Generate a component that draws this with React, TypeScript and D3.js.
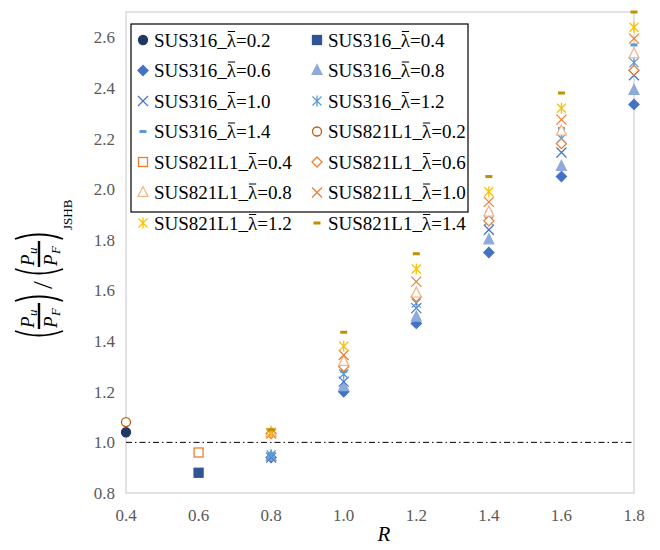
import React, { useRef, useEffect } from "react";
import * as d3 from "d3";

const rVals = [0.8, 1.0, 1.2, 1.4, 1.6, 1.8];

// SUS316 series
const sus316_02 = [{ r: 0.4, v: 1.04 }];
const sus316_04 = [{ r: 0.6, v: 0.88 }];
const sus316_06 = [0.94, 1.2, 1.47, 1.75, 2.05, 2.335];
const sus316_08 = [0.945, 1.22, 1.495, 1.8, 2.09, 2.39];
const sus316_10 = [0.94, 1.24, 1.53, 1.84, 2.145, 2.45];
const sus316_12 = [0.95, 1.27, 1.55, 1.875, 2.2, 2.5];
const sus316_14 = [0.955, 1.28, 1.575, 1.91, 2.24, 2.57];

// SUS821L1 series
const sus821_02 = [{ r: 0.4, v: 1.08 }];
const sus821_04 = [{ r: 0.6, v: 0.96 }];
const sus821_06 = [1.035, 1.3, 1.575, 1.875, 2.18, 2.47];
const sus821_08 = [1.04, 1.32, 1.59, 1.91, 2.23, 2.535];
const sus821_10 = [1.035, 1.345, 1.635, 1.95, 2.275, 2.595];
const sus821_12 = [1.04, 1.38, 1.685, 1.99, 2.32, 2.64];
const sus821_14 = [1.05, 1.435, 1.745, 2.05, 2.38, 2.7];

const xTicks = [0.4, 0.6, 0.8, 1.0, 1.2, 1.4, 1.6, 1.8];
const yTicks = [0.8, 1.0, 1.2, 1.4, 1.6, 1.8, 2.0, 2.2, 2.4, 2.6];

const toPts = (arr: number[]) => arr.map((v, i) => ({ r: rVals[i], v }));

const series = [
  { steel: "SUS316", lam: "0.2", shape: "circle", color: "#203864", fill: true, data: sus316_02 },
  { steel: "SUS316", lam: "0.4", shape: "square", color: "#2F5597", fill: true, data: sus316_04 },
  { steel: "SUS316", lam: "0.6", shape: "diamond", color: "#4472C4", fill: true, data: toPts(sus316_06) },
  { steel: "SUS316", lam: "0.8", shape: "triangle", color: "#8FAADC", fill: true, data: toPts(sus316_08) },
  { steel: "SUS316", lam: "1.0", shape: "x", color: "#4472C4", fill: false, data: toPts(sus316_10) },
  { steel: "SUS316", lam: "1.2", shape: "star", color: "#5B9BD5", fill: false, data: toPts(sus316_12) },
  { steel: "SUS316", lam: "1.4", shape: "dash", color: "#5B9BD5", fill: true, data: toPts(sus316_14) },
  { steel: "SUS821L1", lam: "0.2", shape: "circle", color: "#C55A11", fill: false, data: sus821_02 },
  { steel: "SUS821L1", lam: "0.4", shape: "square", color: "#ED7D31", fill: false, data: sus821_04 },
  { steel: "SUS821L1", lam: "0.6", shape: "diamond", color: "#ED7D31", fill: false, data: toPts(sus821_06) },
  { steel: "SUS821L1", lam: "0.8", shape: "triangle", color: "#F4B183", fill: false, data: toPts(sus821_08) },
  { steel: "SUS821L1", lam: "1.0", shape: "x", color: "#ED7D31", fill: false, data: toPts(sus821_10) },
  { steel: "SUS821L1", lam: "1.2", shape: "star", color: "#FFC000", fill: false, data: toPts(sus821_12) },
  { steel: "SUS821L1", lam: "1.4", shape: "dash", color: "#BF9000", fill: true, data: toPts(sus821_14) },
];

const FONT = "Liberation Serif, Times New Roman, serif";

const drawMarker = (g: any, shape: string, color: string, fill: boolean) => {
  const f = fill ? color : "white";
  if (shape === "circle") {
    g.append("circle").attr("r", 4.5).attr("fill", f).attr("stroke", color).attr("stroke-width", 1.3);
  } else if (shape === "square") {
    g.append("rect").attr("x", -4.5).attr("y", -4.5).attr("width", 9).attr("height", 9)
      .attr("fill", f).attr("stroke", color).attr("stroke-width", 1.3);
  } else if (shape === "diamond") {
    g.append("path").attr("d", "M0,-5L5,0L0,5L-5,0Z").attr("fill", f).attr("stroke", color).attr("stroke-width", 1.3);
  } else if (shape === "triangle") {
    g.append("path").attr("d", "M0,-6L5,4L-5,4Z").attr("fill", f).attr("stroke", color).attr("stroke-width", 1.2);
  } else if (shape === "x") {
    g.append("path").attr("d", "M-5,-5L5,5M-5,5L5,-5").attr("stroke", color).attr("stroke-width", 1.2).attr("fill", "none");
  } else if (shape === "star") {
    g.append("path").attr("d", "M-4.5,-4.5L4.5,4.5M-4.5,4.5L4.5,-4.5M0,-5.5L0,5.5")
      .attr("stroke", color).attr("stroke-width", 1.3).attr("fill", "none");
  } else if (shape === "dash") {
    g.append("rect").attr("x", -3.5).attr("y", -1.5).attr("width", 7).attr("height", 3).attr("fill", color);
  }
};

const Chart = () => {
  const ref = useRef<SVGSVGElement>(null);

  useEffect(() => {
    const svg = d3.select(ref.current);
    svg.selectAll("*").remove();

    const left = 126, right = 634, top = 12, bottom = 493;
    const x = d3.scaleLinear().domain([0.4, 1.8]).range([left, right]);
    const y = d3.scaleLinear().domain([0.8, 2.7]).range([bottom, top]);

    // plot frame
    svg.append("rect").attr("x", left).attr("y", top).attr("width", right - left).attr("height", bottom - top)
      .attr("fill", "none").attr("stroke", "#d9d9d9").attr("stroke-width", 1.5);

    // tick labels
    svg.append("g").selectAll("text").data(yTicks).enter().append("text")
      .attr("x", left - 11).attr("y", (d) => y(d)).attr("dy", "0.35em")
      .attr("text-anchor", "end").attr("fill", "#595959")
      .attr("font-family", FONT).attr("font-size", 17)
      .text((d) => d.toFixed(1));
    svg.append("g").selectAll("text").data(xTicks).enter().append("text")
      .attr("x", (d) => x(d)).attr("y", bottom + 28)
      .attr("text-anchor", "middle").attr("fill", "#595959")
      .attr("font-family", FONT).attr("font-size", 17)
      .text((d) => d.toFixed(1));

    // reference line at 1.0
    svg.append("line").attr("x1", left).attr("x2", right).attr("y1", y(1.0)).attr("y2", y(1.0))
      .attr("stroke", "black").attr("stroke-width", 1).attr("stroke-dasharray", "6,3,1.5,3");

    // points
    series.forEach((s) => {
      s.data.forEach((p) => {
        const g = svg.append("g").attr("transform", `translate(${x(p.r)},${y(p.v)})`);
        drawMarker(g, s.shape, s.color, s.fill);
      });
    });

    // legend
    const lg = svg.append("g");
    lg.append("rect").attr("x", 131).attr("y", 24).attr("width", 337).attr("height", 188)
      .attr("fill", "white").attr("stroke", "black").attr("stroke-width", 1.2);
    series.forEach((s, i) => {
      const col = i % 2, row = Math.floor(i / 2);
      const lx = col === 0 ? 143 : 317;
      const ly = 40 + row * 30.5;
      const g = lg.append("g").attr("transform", `translate(${lx},${ly})`);
      drawMarker(g, s.shape, s.color, s.fill);
      const t = lg.append("text").attr("x", lx + 11).attr("y", ly).attr("dy", "0.35em")
        .attr("fill", "black").attr("font-family", FONT).attr("font-size", 19);
      t.append("tspan").text(s.steel + "_");
      t.append("tspan").text("λ");
      t.append("tspan").text("=" + s.lam);
      const full = t.node() as SVGTextContentElement;
      const pre = (s.steel + "_").length;
      const w1 = full.getSubStringLength(0, pre);
      const w2 = full.getSubStringLength(pre, 1);
      lg.append("line").attr("x1", lx + 11 + w1 + 1).attr("x2", lx + 11 + w1 + w2 - 1)
        .attr("y1", ly - 8.5).attr("y2", ly - 8.5).attr("stroke", "black").attr("stroke-width", 1);
    });

    // x axis title
    svg.append("text").attr("x", (left + right) / 2 + 4).attr("y", 541).attr("text-anchor", "middle")
      .attr("font-family", FONT).attr("font-size", 21)
      .attr("font-style", "italic").text("R");

    // y axis title (rotated), built from pieces; local x runs upward on screen
    const yt = svg.append("g").attr("transform", "translate(39,338) rotate(-90)")
      .attr("font-family", FONT);
    const paren = (x0: number, open: boolean) => {
      const d = open
        ? `M${x0 + 7},-24 Q${x0 - 2},0 ${x0 + 7},24`
        : `M${x0},-24 Q${x0 + 9},0 ${x0},24`;
      yt.append("path").attr("d", d).attr("fill", "none").attr("stroke", "black").attr("stroke-width", 1.8);
    };
    const frac = (x0: number) => {
      paren(x0, true);
      yt.append("text").attr("x", x0 + 10).attr("y", -5).attr("font-size", 19).attr("font-style", "italic").text("P");
      yt.append("text").attr("x", x0 + 22).attr("y", -2).attr("font-size", 13).attr("font-style", "italic").text("u");
      yt.append("line").attr("x1", x0 + 9).attr("x2", x0 + 35).attr("y1", 0).attr("y2", 0).attr("stroke", "black").attr("stroke-width", 2.4);
      yt.append("text").attr("x", x0 + 10).attr("y", 18).attr("font-size", 19).attr("font-style", "italic").text("P");
      yt.append("text").attr("x", x0 + 22).attr("y", 21).attr("font-size", 13).attr("font-style", "italic").text("F");
      paren(x0 + 37, false);
    };
    frac(0);
    yt.append("text").attr("x", 49).attr("y", 13).attr("font-size", 28).text("/");
    frac(62);
    yt.append("text").attr("x", 108).attr("y", 33).attr("font-size", 13).text("JSHB");
  }, []);

  return <svg ref={ref} width={660} height={550} style={{ display: "block" }} />;
};

export default function App() {
  return (
    <div style={{ margin: "-8px" }}>
      <Chart />
    </div>
  );
}
